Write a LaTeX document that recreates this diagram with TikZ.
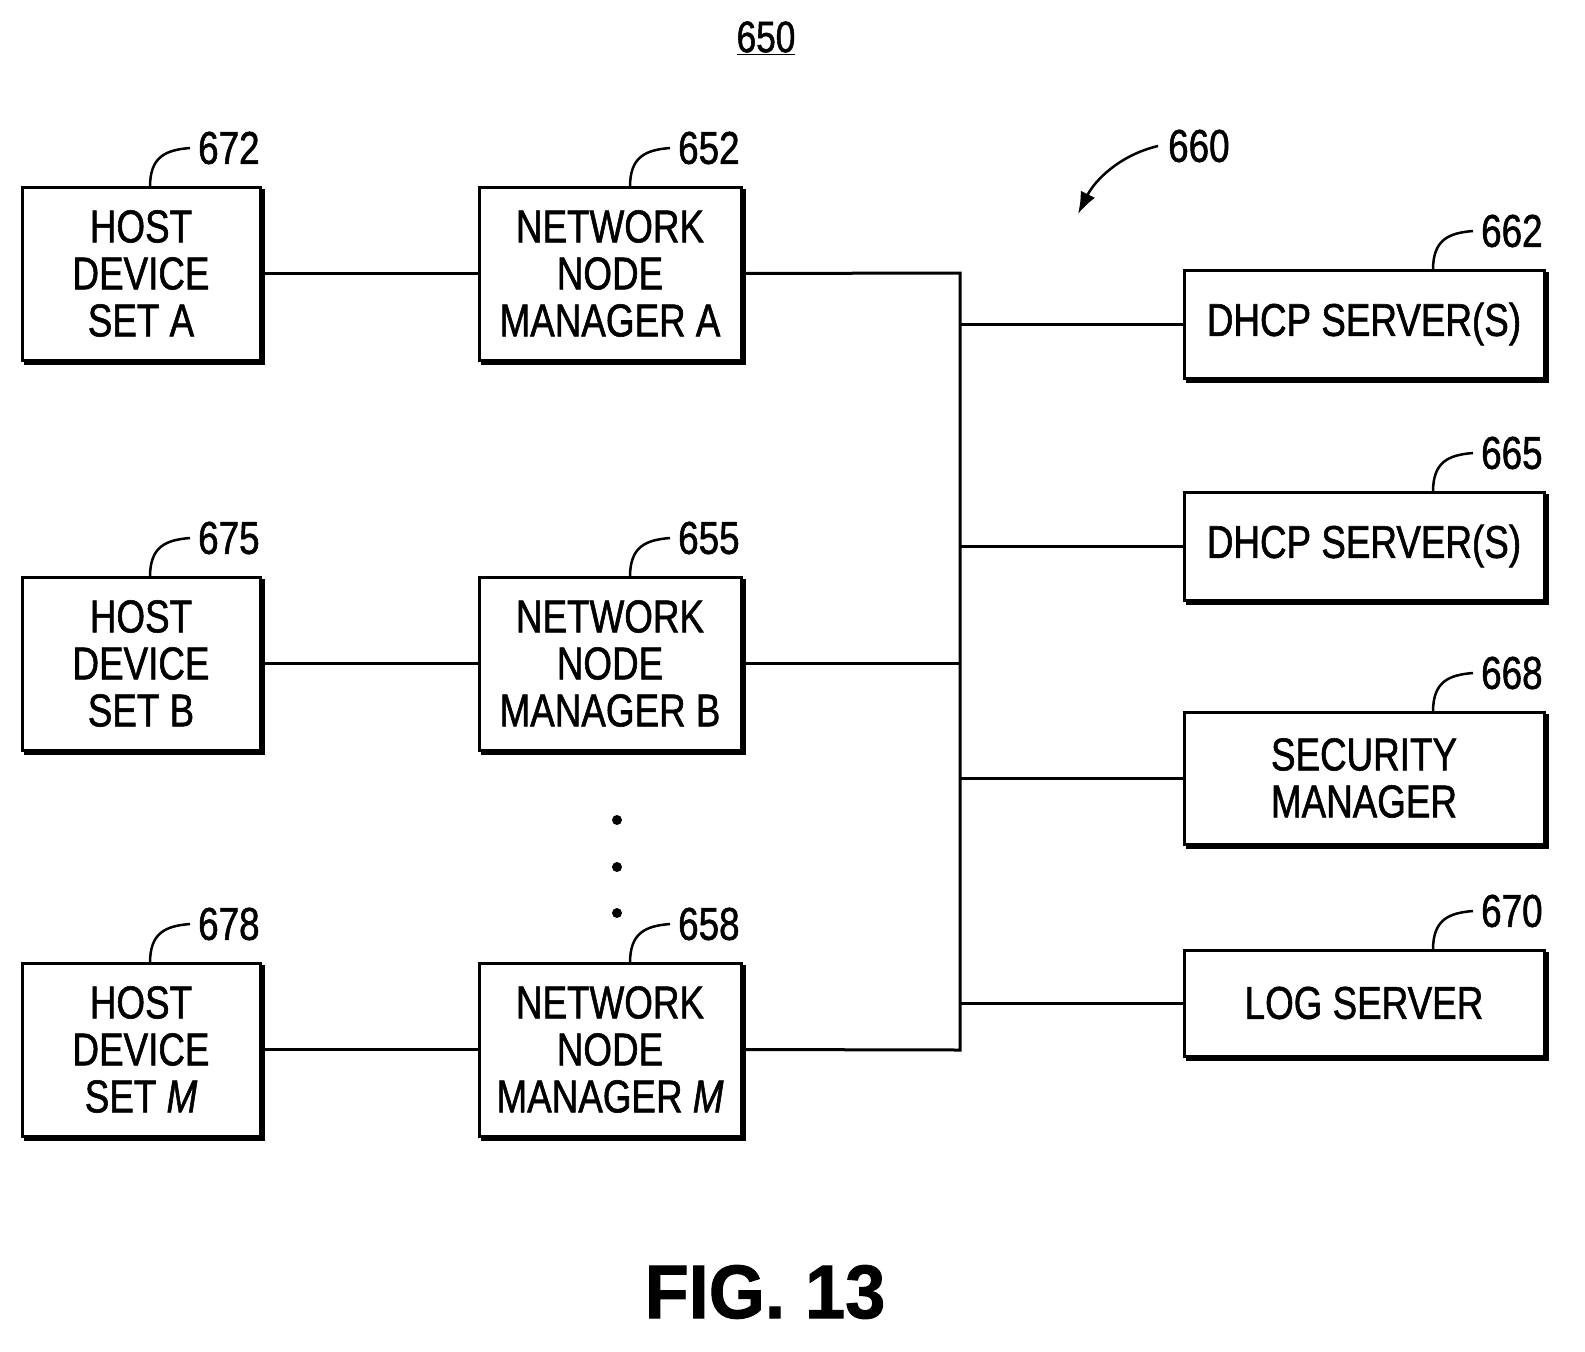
\documentclass[tikz,border=0pt]{standalone}
\usepackage{fontspec}
\usetikzlibrary{arrows.meta}
\setmainfont{Liberation Sans}[FakeStretch=0.8,FakeBold=1.2]
\begin{document}
\begin{tikzpicture}[x=1pt,y=-1pt,
 txt/.style={font=\fontsize{46}{47}\selectfont, align=center},
 lbl/.style={font=\fontsize{46}{46}\selectfont, anchor=west, inner sep=0pt},
 ln/.style={line width=3pt}]
\useasboundingbox (0,0) rectangle (1585,1352);
\newcommand\bx[6]{% name, x1,y1,x2,y2,text
 \draw[ln] (#2,#3) rectangle (#4,#5);
 \draw[line width=3pt] (#2+2,#5+3) -- (#4+3,#5+3) -- (#4+3,#3+2);
 \node[txt] (#1) at ({(#2+#4)/2},{(#3+#5)/2}) {#6};
 \coordinate (#1w) at (#2,{(#3+#5)/2});
 \coordinate (#1e) at (#4,{(#3+#5)/2});}
\newcommand\lead[3]{% name, x, y (box top)
 \draw[line width=2.5pt] (#2,#3) .. controls (#2,#3-30) and (#2+15,#3-37) .. (#2+40,#3-39);
 \node[lbl] (#1) at (#2+48,#3-39) {#1};}
\bx{ha}{22}{187}{260}{360}{HOST\\DEVICE\\SET A}
\bx{hb}{22}{577}{260}{750}{HOST\\DEVICE\\SET B}
\bx{hm}{22}{963}{260}{1136}{HOST\\DEVICE\\SET \textit{M}}
\bx{na}{479}{187}{741}{360}{NETWORK\\NODE\\MANAGER A}
\bx{nb}{479}{577}{741}{750}{NETWORK\\NODE\\MANAGER B}
\bx{nm}{479}{963}{741}{1136}{NETWORK\\NODE\\MANAGER \textit{M}}
\bx{d1}{1184}{270}{1544}{378}{DHCP SERVER(S)}
\bx{d2}{1184}{492}{1544}{600}{DHCP SERVER(S)}
\bx{sm}{1184}{712}{1544}{844}{SECURITY\\MANAGER}
\bx{ls}{1184}{950}{1544}{1056}{LOG SERVER}
\lead{672}{150}{187}\lead{675}{150}{577}\lead{678}{150}{963}
\lead{652}{630}{187}\lead{655}{630}{577}\lead{658}{630}{963}
\lead{662}{1433}{270}\lead{665}{1433}{492}\lead{668}{1433}{712}\lead{670}{1433}{950}
\coordinate (b1) at (960,273);\coordinate (b2) at (960,1050);
\draw[ln] (hae) -- (naw); \draw[ln] (hbe) -- (nbw); \draw[ln] (hme) -- (nmw);
\draw[ln] (nae) -- (b1) -- (b2) -- (nme);
\draw[ln] (nbe) -- (nbe -| b1);
\draw[ln] (d1w -| b1) -- (d1w); \draw[ln] (d2w -| b1) -- (d2w);
\draw[ln] (smw -| b1) -- (smw); \draw[ln] (lsw -| b1) -- (lsw);
\foreach \y in {820,867,913} \fill (617,\y) circle (5);
\node[lbl] (660) at (1168,146) {660};
\draw[line width=2.5pt,-{Latex[length=22pt,width=16pt]}] (1158,146) .. controls (1120,155) and (1095,180) .. (1078,214);
\node[font=\fontsize{44}{44}\selectfont, inner sep=0pt] (650) at (766,38) {\underline{650}};
\node[font=\fontsize{76}{76}\selectfont\bfseries\addfontfeature{FakeStretch=0.95}] (fig) at (765,1292) {FIG. 13};
\end{tikzpicture}
\end{document}
